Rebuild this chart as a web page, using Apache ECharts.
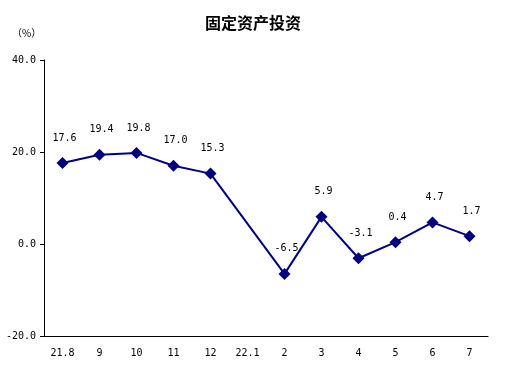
<!DOCTYPE html>
<html><head><meta charset="utf-8">
<script src="https://cdn.jsdelivr.net/npm/echarts@6/dist/echarts.min.js"></script>
<style>html,body{margin:0;padding:0;background:#fff}#c{width:506px;height:368px}</style>
</head><body><div id="c"></div>
<script>
var titleText = '固定资产投资';
var unitText = '（%）';
var categories = ['21.8','9','10','11','12','22.1','2','3','4','5','6','7'];
var values = [17.6, 19.4, 19.8, 17.0, 15.3, null, -6.5, 5.9, -3.1, 0.4, 4.7, 1.7];
var yMin = -20, yMax = 40, yStep = 20;

var chart = echarts.init(document.getElementById('c'), null, {renderer:'canvas'});
var mono = '"DejaVu Sans Mono", monospace';
chart.setOption({
  animation: false,
  backgroundColor: '#fff',
  title: {
    text: titleText, left: 'center', top: 10,
    textStyle: {fontFamily: '"Noto Sans CJK SC"', fontSize: 16, fontWeight: 'bold', color: '#000'}
  },
  graphic: [{
    type: 'text', left: 12, top: 28,
    style: {text: unitText, font: '10px "Noto Sans CJK SC"', fill: '#000'}
  }],
  grid: {left: 44, right: 18, top: 60, bottom: 32},
  xAxis: {
    type: 'category', data: categories, boundaryGap: true,
    axisLine: {onZero: false, lineStyle: {color: '#000', width: 1}},
    axisTick: {inside: true, length: 4, lineStyle: {color: '#000'}},
    axisLabel: {color: '#000', fontFamily: mono, fontSize: 10, margin: 12, interval: 0}
  },
  yAxis: {
    type: 'value', min: yMin, max: yMax, interval: yStep,
    axisLine: {show: true, lineStyle: {color: '#000', width: 1}},
    axisTick: {show: true, length: 4, lineStyle: {color: '#000'}},
    splitLine: {show: false},
    axisLabel: {color: '#000', fontFamily: mono, fontSize: 10, margin: 8,
      formatter: function(v){ return v.toFixed(1); }}
  },
  series: [{
    type: 'line', data: values, connectNulls: true,
    symbol: 'diamond', symbolSize: 12,
    lineStyle: {color: '#000080', width: 2},
    itemStyle: {color: '#000080'},
    label: {show: true, position: 'top', distance: 14, offset: [2, 0], color: '#000', fontFamily: mono, fontSize: 10,
      formatter: function(p){ return p.value.toFixed(1); }}
  }]
});
</script></body></html>
